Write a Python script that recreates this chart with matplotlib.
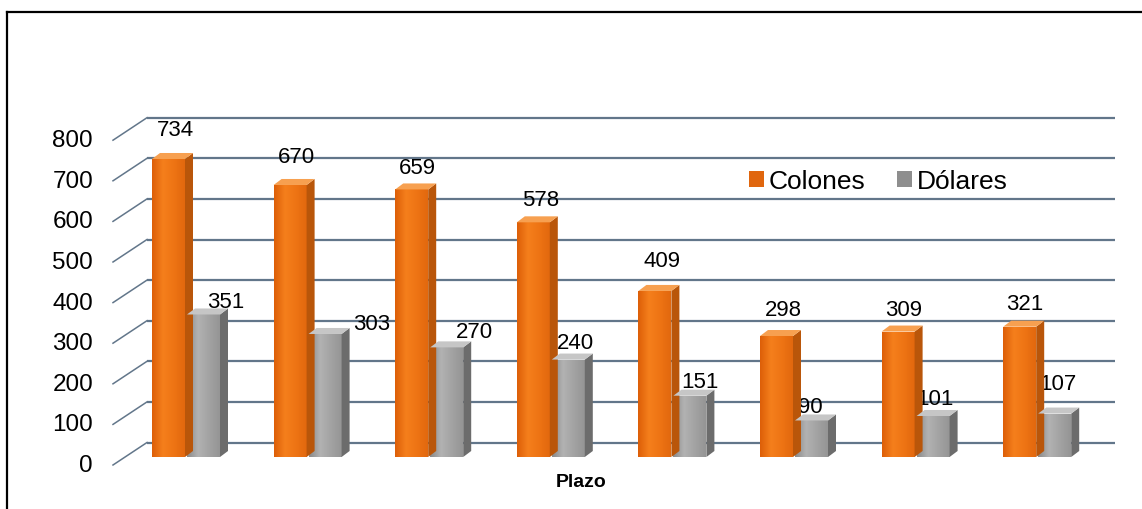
import matplotlib.pyplot as plt
import numpy as np
from matplotlib.colors import LinearSegmentedColormap
from matplotlib.patches import Patch, Polygon
from matplotlib.lines import Line2D

plt.rcParams['font.family'] = ['Liberation Sans', 'DejaVu Sans']

# data
plazos = list(range(8))
colones = [734, 670, 659, 578, 409, 298, 309, 321]
dolares = [351, 303, 270, 240, 151, 90, 101, 107]
y_ticks = [0, 100, 200, 300, 400, 500, 600, 700, 800]

# label offsets in pixels (dx, dy) from the top of the front face
off_colones = [(7, 29), (6, 28), (6, 22), (7, 23), (7, 30), (7, 27), (6, 22), (5, 23)]
off_dolares = [(22, 13), (47, 10), (28, 16), (7, 17), (10, 14), (-1, 14), (2, 17), (3, 30)]

W, H = 1142, 510
X0, DX = 185.0, 121.6      # px of group 0 centre, px per category
Y0, SY = 458.0, 0.406      # px of value 0 on bar plane, px per unit


def px_x(p):
    return p / DX


def px_y(p):
    return p / SY


def to_data(xp, yp):
    return (xp - X0) / DX, (Y0 - yp) / SY


fig = plt.figure(figsize=(W / 100, H / 100), dpi=100)
ax = fig.add_axes([0, 0, 1, 1])
ax.set_xlim(-X0 / DX, (W - X0) / DX)
ax.set_ylim((Y0 - H) / SY, Y0 / SY)
ax.axis('off')

grid_c = '#62768a'
# back wall gridlines and left depth lines
for v in y_ticks:
    xa, ya = to_data(113, 466 - SY * v)
    xb, yb = to_data(147, 443.5 - SY * v)
    xc, yc = to_data(1115, 443.5 - SY * v)
    ax.plot([xb, xc], [yb, yc], color=grid_c, lw=1.6, zorder=1,
            solid_capstyle='butt')
    ax.plot([xa, xb], [ya, yb], color=grid_c, lw=1.1, zorder=1)
    tx, ty = to_data(93, 466 - SY * v)
    ax.text(tx, ty, str(v), ha='right', va='center', fontsize=17.5)

bw = px_x(33)
ddx, ddy = px_x(8), px_y(6)


def draw_bars(xs, vals, grad, side, top):
    cmap = LinearSegmentedColormap.from_list('g', grad)
    ramp = np.linspace(0, 1, 64).reshape(1, -1)
    bars = ax.bar(xs, vals, width=bw, align='edge', color=grad[1],
                  linewidth=0, zorder=3)
    for b in bars:
        x, w, h = b.get_x(), b.get_width(), b.get_height()
        im = ax.imshow(ramp, cmap=cmap, aspect='auto', zorder=3.1,
                       extent=(x, x + w, 0, h), interpolation='bilinear')
        im.set_clip_path(b)
        ax.add_patch(Polygon([(x + w, 0), (x + w + ddx, ddy),
                              (x + w + ddx, h + ddy), (x + w, h)],
                             closed=True, color=side, lw=0, zorder=3.2))
        ax.add_patch(Polygon([(x, h), (x + w, h), (x + w + ddx, h + ddy),
                              (x + ddx, h + ddy)],
                             closed=True, color=top, lw=0, zorder=3.2))
    return bars


xo = [p - bw for p in plazos]
xg = [p + px_x(2) for p in plazos]
draw_bars(xo, colones, ['#dd5f08', '#f57f1c', '#ee7414', '#e2680e'],
          '#b9560a', '#f7a050')
draw_bars(xg, dolares, ['#8a8a8a', '#b2b2b2', '#a3a3a3', '#959595'],
          '#6c6c6c', '#c6c6c6')

for p, v, (dx, dy) in zip(plazos, colones, off_colones):
    ax.annotate(str(v), (p - bw / 2, v), xytext=(dx, dy),
                textcoords='offset pixels', ha='center', va='center',
                fontsize=16)
for p, v, (dx, dy) in zip(plazos, dolares, off_dolares):
    ax.annotate(str(v), (p + px_x(2) + bw / 2, v), xytext=(dx, dy),
                textcoords='offset pixels', ha='center', va='center',
                fontsize=16)

px, py = to_data(581, 483)
ax.text(px, py, 'Plazo', ha='center', va='center', fontsize=14,
        fontweight='bold')

handles = [Patch(facecolor='#e0660e', edgecolor='none', label='Colones'),
           Patch(facecolor='#8e8e8e', edgecolor='none', label='Dólares')]
ax.legend(handles=handles, ncol=2, frameon=False, fontsize=19,
          loc='center left', bbox_to_anchor=(749 / W, 1 - 182 / H),
          bbox_transform=fig.transFigure, borderaxespad=0, borderpad=0,
          handlelength=0.55, handleheight=0.55, handletextpad=0.2,
          columnspacing=1.2)

# outer frame (top and left edges)
fig.add_artist(Line2D([7 / W, 1], [1 - 13 / H, 1 - 13 / H],
                      color='black', lw=1.6))
fig.add_artist(Line2D([7 / W, 7 / W], [0, 1 - 13 / H],
                      color='black', lw=1.6))

fig.savefig('out.png', dpi=100)
